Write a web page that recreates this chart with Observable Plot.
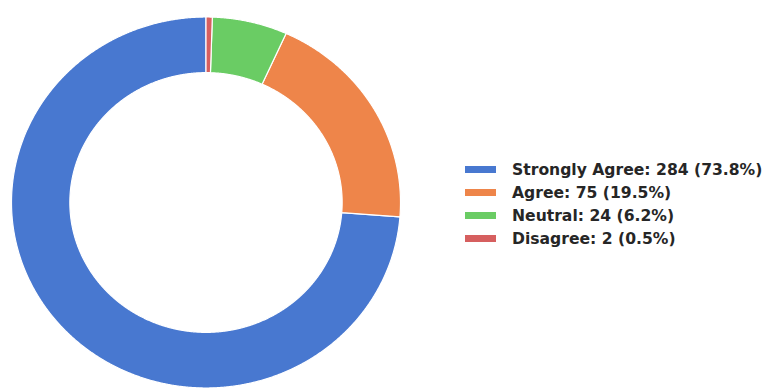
<!DOCTYPE html>
<html>
<head>
<meta charset="utf-8">
<script src="https://cdn.jsdelivr.net/npm/d3@7"></script>
<script src="https://cdn.jsdelivr.net/npm/@observablehq/plot@0.6"></script>
<style>
  html, body { margin: 0; padding: 0; background: #fff; }
  #wrap { position: relative; width: 766px; height: 390px; overflow: hidden; }
  #legend { position: absolute; left: 465px; top: 158px; font-family: "DejaVu Sans", sans-serif; font-weight: bold; font-size: 15.6px; color: #262626; }
  .item { display: flex; align-items: center; height: 23px; white-space: nowrap; }
  .sw { width: 31px; height: 7.5px; margin-right: 16px; }
</style>
</head>
<body>
<div id="wrap"></div>
<script>
const categories = ["Strongly Agree", "Agree", "Neutral", "Disagree"];
const counts = [284, 75, 24, 2];
const colors = ["#4878d0", "#ee854a", "#6acc64", "#d65f5f"];

const total = d3.sum(counts);
const innerRatio = 0.7;
const startDeg = 90; // counterclockwise from 12 o'clock

// build ring polygons from the values
const points = [];
let acc = 0;
categories.forEach((c, i) => {
  const a0 = startDeg + acc / total * 360;
  acc += counts[i];
  const a1 = startDeg + acc / total * 360;
  const n = Math.max(2, Math.ceil((a1 - a0) / 0.25));
  for (let k = 0; k <= n; k++) {
    const a = (a0 + (a1 - a0) * k / n) * Math.PI / 180;
    points.push({category: c, x: Math.cos(a), y: Math.sin(a)});
  }
  for (let k = n; k >= 0; k--) {
    const a = (a0 + (a1 - a0) * k / n) * Math.PI / 180;
    points.push({category: c, x: innerRatio * Math.cos(a), y: innerRatio * Math.sin(a)});
  }
});

const W = 766, H = 390;
const cx = 205.5, cy = 202, rx = 194.5, ry = 185.5;

const chart = Plot.plot({
  width: W,
  height: H,
  margin: 0,
  x: {domain: [-cx / rx, (W - cx) / rx], axis: null},
  y: {domain: [(cy - H) / ry, cy / ry], axis: null},
  color: {domain: categories, range: colors},
  marks: [
    Plot.line(points, {x: "x", y: "y", z: "category", fill: "category", stroke: "white", strokeWidth: 1.2, strokeLinejoin: "round", curve: "linear-closed"})
  ]
});

const wrap = document.getElementById("wrap");
wrap.appendChild(chart);

const legend = document.createElement("div");
legend.id = "legend";
categories.forEach((c, i) => {
  const item = document.createElement("div");
  item.className = "item";
  const sw = document.createElement("span");
  sw.className = "sw";
  sw.style.background = colors[i];
  const label = document.createElement("span");
  label.textContent = `${c}: ${counts[i]} (${(counts[i] / total * 100).toFixed(1)}%)`;
  item.appendChild(sw);
  item.appendChild(label);
  legend.appendChild(item);
});
wrap.appendChild(legend);
</script>
</body>
</html>
